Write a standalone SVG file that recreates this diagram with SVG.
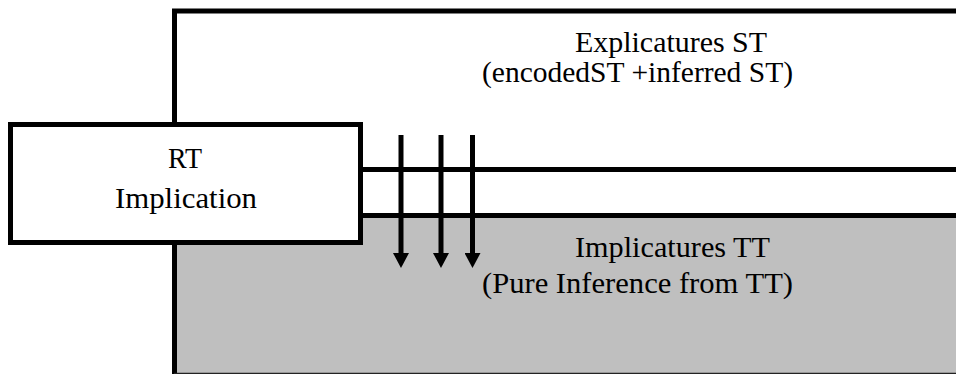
<svg xmlns="http://www.w3.org/2000/svg" width="956" height="374" viewBox="0 0 956 374">
<style>
.ln{stroke:#000;stroke-width:5;fill:none}
.t{font-family:"Liberation Serif","DejaVu Serif",serif;font-size:30px;fill:#000}
.arr{stroke:#000;stroke-width:5;fill:none}
</style>
<defs>
<marker id="ah" markerUnits="userSpaceOnUse" markerWidth="18" markerHeight="17" refX="8" refY="1" orient="0" viewBox="0 0 18 17">
<path d="M0,0 L16,0 L8,15 Z" fill="#000"/>
</marker>
</defs>
<rect width="956" height="374" fill="#fff"/>
<g id="explicatures">
<rect x="174.5" y="11" width="790" height="158.5" fill="#fff"/>
<path class="ln" d="M174.5,170 V11 H960 M174.5,169.5 H960"/>
<text class="t" x="575" y="52" textLength="192" lengthAdjust="spacingAndGlyphs">Explicatures ST</text>
<text class="t" x="482" y="82" textLength="311" lengthAdjust="spacingAndGlyphs">(encodedST +inferred ST)</text>
</g>
<g id="implicatures">
<rect x="174.5" y="215.5" width="790" height="170" fill="#BFBFBF"/>
<path class="ln" d="M174.5,380 V215.5 H960"/>
<line x1="174" y1="373.5" x2="956" y2="373.5" stroke="#222" stroke-width="1.5"/>
<text class="t" x="575" y="257" textLength="195" lengthAdjust="spacingAndGlyphs">Implicatures TT</text>
<text class="t" x="482" y="293" textLength="311" lengthAdjust="spacingAndGlyphs">(Pure Inference from TT)</text>
</g>
<g id="rt">
<rect x="10.5" y="124.5" width="350" height="118" fill="#fff" stroke="#000" stroke-width="5"/>
<text class="t" x="168" y="168" textLength="34" lengthAdjust="spacingAndGlyphs">RT</text>
<text class="t" x="115" y="208" textLength="142" lengthAdjust="spacingAndGlyphs">Implication</text>
</g>
<g id="connectors">
<path class="arr" d="M401,135 V254" marker-end="url(#ah)"/>
<path class="arr" d="M441,135 V254" marker-end="url(#ah)"/>
<path class="arr" d="M472.5,135 V254" marker-end="url(#ah)"/>
</g>
</svg>
